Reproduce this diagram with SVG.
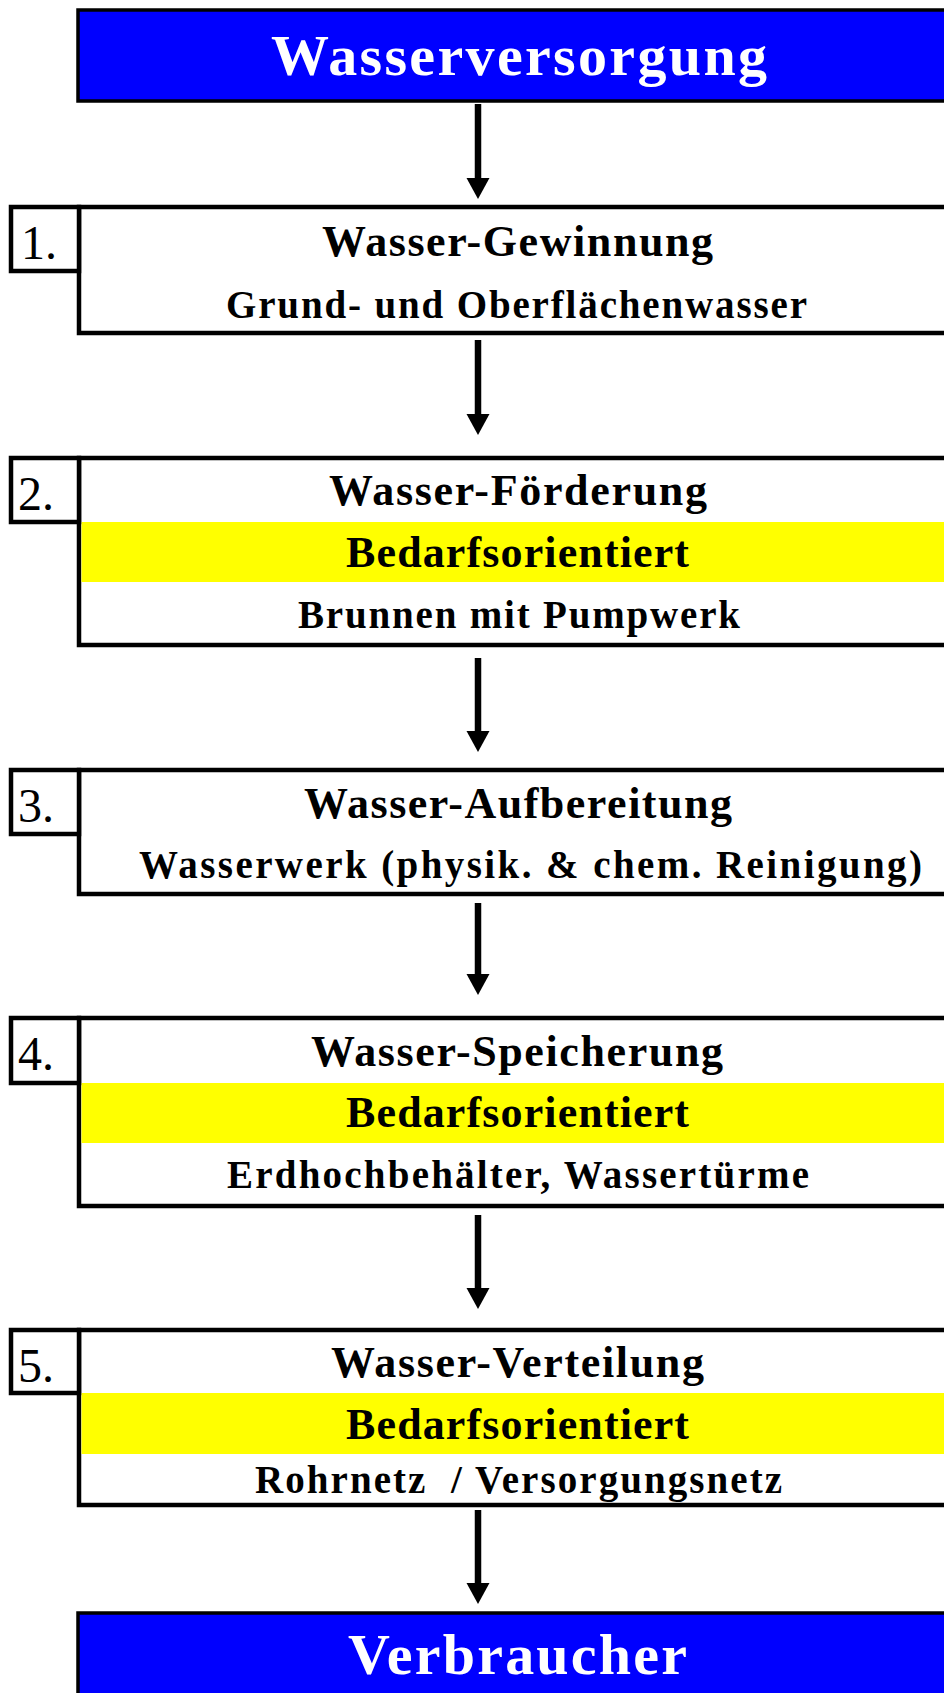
<svg xmlns="http://www.w3.org/2000/svg" width="944" height="1693" viewBox="0 0 944 1693">
  <style>
    .frame { fill: #ffffff; stroke: #000000; stroke-width: 4.5; }
    .blue { fill: #0000ff; stroke: #000000; stroke-width: 3.5; }
    .band { fill: #ffff00; }
    .head { font-family: "Liberation Serif", "Times New Roman", serif; font-weight: bold; font-size: 58px; fill: #ffffff; }
    .title { font-family: "Liberation Serif", "Times New Roman", serif; font-weight: bold; font-size: 44px; fill: #000000; }
    .sub { font-family: "Liberation Serif", "Times New Roman", serif; font-weight: bold; font-size: 39px; fill: #000000; }
    .mark { font-family: "Liberation Serif", "Times New Roman", serif; font-weight: bold; font-size: 44px; fill: #000000; }
    .num { font-family: "Liberation Serif", "Times New Roman", serif; font-size: 48px; fill: #000000; }
    .flow { stroke: #000000; stroke-width: 6.5; fill: none; marker-end: url(#arrow); }
  </style>
  <defs>
    <marker id="arrow" markerUnits="userSpaceOnUse" markerWidth="22" markerHeight="24" refX="11" refY="12" orient="auto" overflow="visible">
      <path d="M0,0.5 L21,12 L0,23.5 Z" fill="#000000"/>
    </marker>
  </defs>

  <rect width="944" height="1693" fill="#ffffff"/>

  <!-- supply source header -->
  <g id="wasserversorgung">
    <rect class="blue" x="78" y="10" width="900" height="91"/>
    <text class="head" x="271" y="75" textLength="496" lengthAdjust="spacing">Wasserversorgung</text>
  </g>

  <!-- step 1 -->
  <g id="gewinnung">
    <rect class="frame" x="79" y="207" width="900" height="126"/>
    <rect class="frame" x="11" y="207" width="68" height="64"/>
    <text class="num" x="21" y="259">1.</text>
    <text class="title" x="322" y="256" textLength="391" lengthAdjust="spacing">Wasser-Gewinnung</text>
    <text class="sub" x="226" y="318" textLength="581" lengthAdjust="spacing">Grund- und Oberflächenwasser</text>
  </g>

  <!-- step 2 -->
  <g id="foerderung">
    <rect class="frame" x="79" y="458" width="900" height="187"/>
    <rect class="band" x="81.5" y="522" width="880" height="60"/>
    <rect class="frame" x="11" y="458" width="68" height="64"/>
    <text class="num" x="18" y="510">2.</text>
    <text class="title" x="329" y="505" textLength="378" lengthAdjust="spacing">Wasser-Förderung</text>
    <text class="mark" x="346" y="567" textLength="343" lengthAdjust="spacing">Bedarfsorientiert</text>
    <text class="sub" x="298" y="628" textLength="442" lengthAdjust="spacing">Brunnen mit Pumpwerk</text>
  </g>

  <!-- step 3 -->
  <g id="aufbereitung">
    <rect class="frame" x="79" y="770" width="900" height="124"/>
    <rect class="frame" x="11" y="770" width="68" height="64"/>
    <text class="num" x="18" y="822">3.</text>
    <text class="title" x="304" y="818" textLength="428" lengthAdjust="spacing">Wasser-Aufbereitung</text>
    <text class="sub" x="139" y="878" textLength="783" lengthAdjust="spacing">Wasserwerk (physik. &amp; chem. Reinigung)</text>
  </g>

  <!-- step 4 -->
  <g id="speicherung">
    <rect class="frame" x="79" y="1018" width="900" height="188"/>
    <rect class="band" x="81.5" y="1083" width="880" height="60"/>
    <rect class="frame" x="11" y="1018" width="68" height="65"/>
    <text class="num" x="18" y="1070">4.</text>
    <text class="title" x="311" y="1066" textLength="412" lengthAdjust="spacing">Wasser-Speicherung</text>
    <text class="mark" x="346" y="1127" textLength="343" lengthAdjust="spacing">Bedarfsorientiert</text>
    <text class="sub" x="227" y="1188" textLength="582" lengthAdjust="spacing">Erdhochbehälter, Wassertürme</text>
  </g>

  <!-- step 5 -->
  <g id="verteilung">
    <rect class="frame" x="79" y="1330" width="900" height="175"/>
    <rect class="band" x="81.5" y="1393" width="880" height="61"/>
    <rect class="frame" x="11" y="1330" width="68" height="63"/>
    <text class="num" x="18" y="1382">5.</text>
    <text class="title" x="331" y="1377" textLength="373" lengthAdjust="spacing">Wasser-Verteilung</text>
    <text class="mark" x="346" y="1439" textLength="343" lengthAdjust="spacing">Bedarfsorientiert</text>
    <text class="sub" x="255" y="1493" textLength="527" lengthAdjust="spacing" xml:space="preserve">Rohrnetz  / Versorgungsnetz</text>
  </g>

  <!-- consumers -->
  <g id="verbraucher">
    <rect class="blue" x="78" y="1613" width="900" height="120"/>
    <text class="head" x="348" y="1674" textLength="339" lengthAdjust="spacing">Verbraucher</text>
  </g>

  <!-- flow arrows between stages -->
  <g id="connectors">
    <line class="flow" x1="478" y1="104" x2="478" y2="189"/>
    <line class="flow" x1="478" y1="340" x2="478" y2="425"/>
    <line class="flow" x1="478" y1="658" x2="478" y2="742"/>
    <line class="flow" x1="478" y1="903" x2="478" y2="985"/>
    <line class="flow" x1="478" y1="1215" x2="478" y2="1299"/>
    <line class="flow" x1="478" y1="1510" x2="478" y2="1594"/>
  </g>
</svg>
